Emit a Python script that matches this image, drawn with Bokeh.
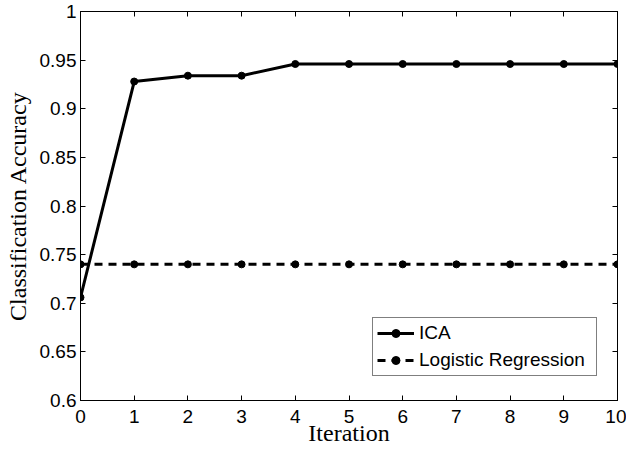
from bokeh.plotting import figure
from bokeh.models import LinearAxis, Range1d, FixedTicker, Legend, LegendItem
from bokeh.embed import file_html
from bokeh.resources import INLINE

iterations = [0, 1, 2, 3, 4, 5, 6, 7, 8, 9, 10]
ica_acc = [0.706, 0.928, 0.934, 0.934, 0.946, 0.946, 0.946, 0.946, 0.946, 0.946, 0.946]
lr_acc = [0.74, 0.74, 0.74, 0.74, 0.74, 0.74, 0.74, 0.74, 0.74, 0.74, 0.74]
x_ticks = [0, 1, 2, 3, 4, 5, 6, 7, 8, 9, 10]
y_ticks = [0.6, 0.65, 0.7, 0.75, 0.8, 0.85, 0.9, 0.95, 1.0]
y_tick_labels = ["0.6", "0.65", "0.7", "0.75", "0.8", "0.85", "0.9", "0.95", "1"]

SANS = "Liberation Sans"
SERIF = "Liberation Serif"

p = figure(width=626, height=452, x_range=Range1d(0, 10), y_range=Range1d(0.6, 1.0),
           output_backend="svg", toolbar_location=None,
           min_border_left=80, min_border_right=9, min_border_top=11, min_border_bottom=52)

p.xgrid.visible = False
p.ygrid.visible = False
p.outline_line_color = "black"
p.outline_line_width = 1
p.background_fill_color = "white"
p.border_fill_color = "white"


def style_axis(ax, ticks, show_labels):
    ax.ticker = FixedTicker(ticks=ticks)
    ax.major_tick_in = 5
    ax.major_tick_out = 0
    ax.minor_tick_line_color = None
    ax.axis_line_color = "black"
    ax.axis_line_width = 1
    ax.major_tick_line_color = "black"
    ax.major_tick_line_width = 1
    if show_labels:
        ax.major_label_text_font = SANS
        ax.major_label_text_font_size = "19px"
        ax.major_label_text_color = "black"
        ax.axis_label_text_font = SERIF
        ax.axis_label_text_font_size = "24px"
        ax.axis_label_text_font_style = "normal"
        ax.axis_label_text_color = "black"
    else:
        ax.major_label_text_font_size = "1px"
        ax.major_label_text_color = None
        ax.major_label_standoff = 0


xax = p.xaxis[0]
yax = p.yaxis[0]
style_axis(xax, x_ticks, True)
style_axis(yax, y_ticks, True)
xax.axis_label = "Iteration"
yax.axis_label = "Classification Accuracy"
xax.major_label_standoff = 9
xax.axis_label_standoff = -6
yax.major_label_standoff = 4
yax.axis_label_standoff = 6
yax.major_label_overrides = dict(zip(y_ticks, y_tick_labels))

top_ax = LinearAxis()
right_ax = LinearAxis()
style_axis(top_ax, x_ticks, False)
style_axis(right_ax, y_ticks, False)
p.add_layout(top_ax, "above")
p.add_layout(right_ax, "right")

lr_line = p.line(iterations, lr_acc, line_color="black", line_width=3, line_dash="8 6")
lr_pts = p.scatter(iterations, lr_acc, size=7, fill_color="black", line_color="black")
ica_line = p.line(iterations, ica_acc, line_color="black", line_width=3)
ica_pts = p.scatter(iterations, ica_acc, size=7, fill_color="black", line_color="black")

legend = Legend(items=[
    LegendItem(label="ICA", renderers=[ica_line, ica_pts]),
    LegendItem(label="Logistic Regression", renderers=[lr_line, lr_pts]),
], location=(292, 24))
legend.margin = 0
legend.padding = 4
legend.spacing = 5
legend.glyph_width = 37
legend.glyph_height = 20
legend.label_height = 20
legend.label_width = 173
legend.label_standoff = 5
legend.label_text_font = SANS
legend.label_text_font_size = "19px"
legend.label_text_color = "black"
legend.border_line_color = "black"
legend.border_line_width = 1
legend.background_fill_color = "white"
legend.background_fill_alpha = 1
p.add_layout(legend, "center")

open("out.html", "w").write(file_html(p, INLINE))
